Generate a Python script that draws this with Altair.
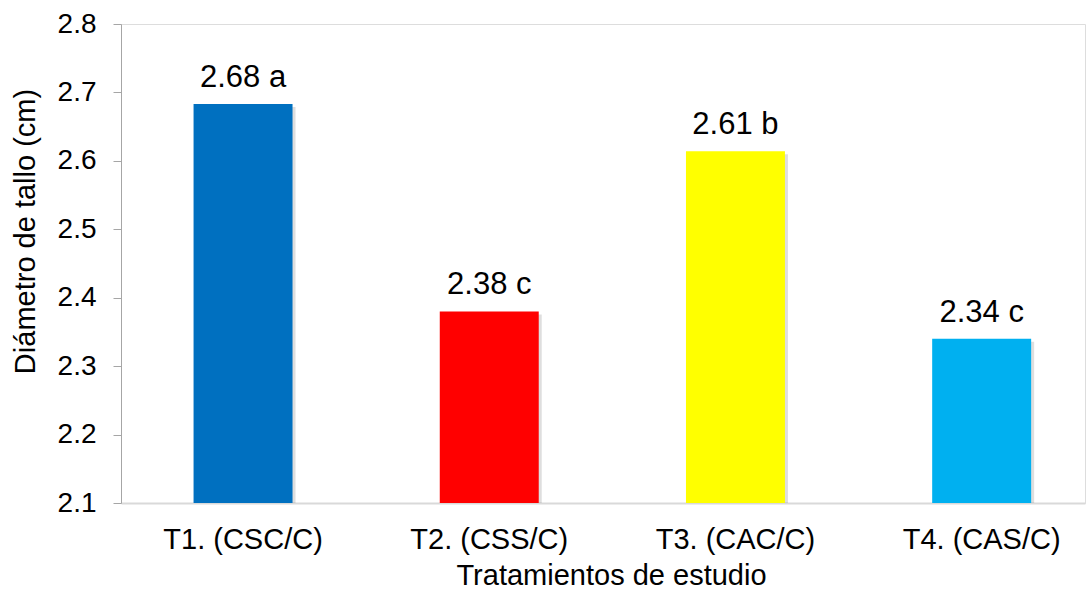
import altair as alt
import pandas as pd

categories = ["T1. (CSC/C)", "T2. (CSS/C)", "T3. (CAC/C)", "T4. (CAS/C)"]
values = [2.683, 2.38, 2.614, 2.34]
value_text = ["2.68", "2.38", "2.61", "2.34"]
letters = ["a", "c", "b", "c"]
colors = ["#0070C0", "#FF0000", "#FFFF00", "#00B0F0"]
y_ticks = [2.1, 2.2, 2.3, 2.4, 2.5, 2.6, 2.7, 2.8]

df = pd.DataFrame({
    "cat": categories,
    "val": values,
    "label": [f"{v} {l}" for v, l in zip(value_text, letters)],
    "color": colors,
})

FONT = "Liberation Sans"

x = alt.X(
    "cat:N",
    sort=categories,
    scale=alt.Scale(paddingInner=0.598, paddingOuter=0.2567, align=0.574),
    axis=alt.Axis(
        title="Tratamientos de estudio",
        labelAngle=0,
        ticks=False,
        tickSize=0,
        domainColor="#d9d9d9",
        domainWidth=2,
        labelFont=FONT,
        labelFontSize=29,
        labelColor="#000000",
        labelBaseline="alphabetic",
        labelPadding=45,
        titleFont=FONT,
        titleFontSize=29,
        titleFontWeight="normal",
        titleColor="#000000",
        titleBaseline="alphabetic",
        titleX=490,
        titleY=81,
    ),
)

y = alt.Y(
    "val:Q",
    scale=alt.Scale(domain=[2.1, 2.8], nice=False, zero=False),
    axis=alt.Axis(
        title="Diámetro de tallo (cm)",
        values=y_ticks,
        format=".1f",
        grid=False,
        domainColor="#a6a6a6",
        tickColor="#a6a6a6",
        tickSize=8,
        labelFont=FONT,
        labelFontSize=28,
        labelColor="#000000",
        labelPadding=17,
        titleFont=FONT,
        titleFontSize=29,
        titleFontWeight="normal",
        titleColor="#000000",
        titleAngle=270,
        titleBaseline="middle",
        titleAlign="center",
        titleX=-96,
        titleY=207,
    ),
)

base = alt.Chart(df)

shadow = base.mark_bar(color="#000000", opacity=0.13, xOffset=3, yOffset=3).encode(
    x=x, y=y, y2=alt.datum(2.1)
)

bars = base.mark_bar().encode(
    x=x,
    y=y,
    y2=alt.datum(2.1),
    color=alt.Color("color:N", scale=None, legend=None),
)

text = base.mark_text(
    font=FONT, fontSize=31, baseline="alphabetic", dy=-17, color="#000000"
).encode(x=x, y=y, text="label:N")

chart = (
    alt.layer(shadow, bars, text)
    .properties(
        width=964,
        height=479,
        autosize=alt.AutoSizeParams(type="none"),
        padding={"left": 121, "top": 24, "right": 4, "bottom": 89},
    )
    .configure_view(stroke=None)
    .configure(background="#ffffff")
)

chart.save("out.html", embed_options={"renderer": "svg", "actions": False})
